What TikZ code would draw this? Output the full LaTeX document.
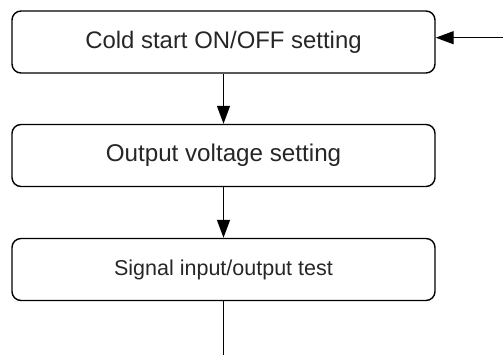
\documentclass[tikz,border=0pt]{standalone}
\usepackage{fontspec}
\setmainfont{Liberation Sans}
\usetikzlibrary{arrows.meta}
\begin{document}
\begin{tikzpicture}[x=1pt,y=1pt,
  stepbox/.style={draw,line width=1.4pt,rounded corners=9pt,minimum width=423pt,minimum height=62pt,inner sep=0pt,text=black!85},
  flow/.style={line width=1.4pt,-{Triangle[length=18pt,width=13pt]}}]
\useasboundingbox (0,0) rectangle (503,355);
\node[stepbox,font=\fontsize{23.9}{28}\selectfont] (b1) at (223.5,313) {Cold start ON/OFF setting};
\node[stepbox,font=\fontsize{24.2}{28}\selectfont] (b2) at (223.5,199.5) {Output voltage setting};
\node[stepbox,font=\fontsize{21.5}{25}\selectfont] (b3) at (223.5,85.5) {Signal input/output test};
\coordinate (in) at (503,317.3);
\coordinate (out) at (223.5,0);
\draw[flow] (in) -- (in -| b1.east);
\draw[flow] (b1) -- (b2);
\draw[flow] (b2) -- (b3);
\draw[line width=1.4pt] (b3) -- (out);
\end{tikzpicture}
\end{document}
